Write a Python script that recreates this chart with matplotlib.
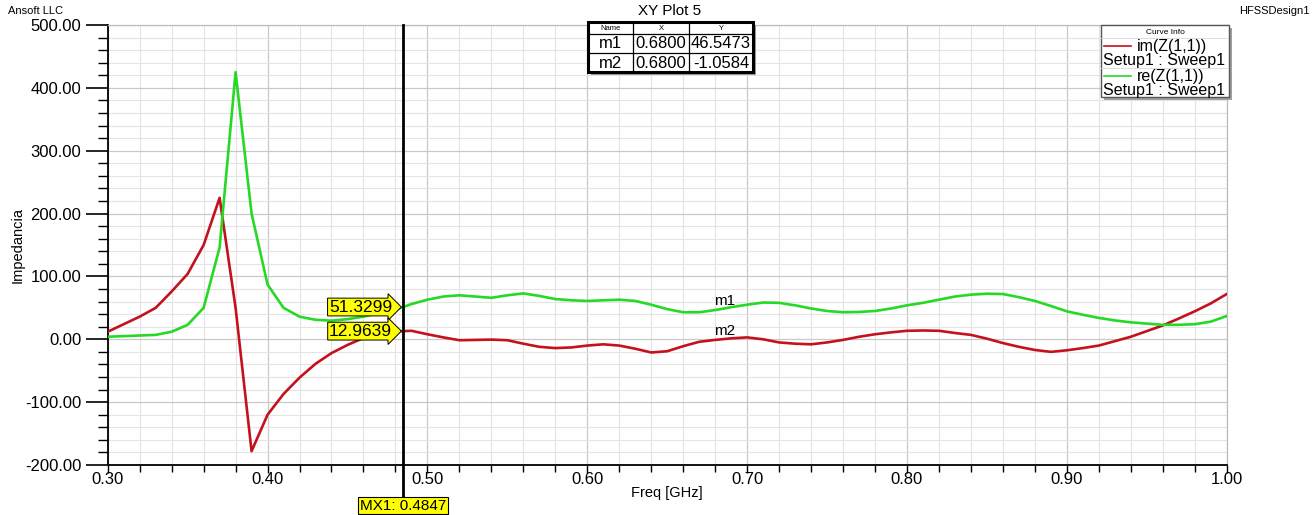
import numpy as np
import matplotlib
matplotlib.use("Agg")
import matplotlib.pyplot as plt
from matplotlib.ticker import MultipleLocator, FormatStrFormatter
from matplotlib.patches import Rectangle

plt.rcParams['font.family'] = ['Liberation Sans', 'DejaVu Sans']

# ---------------- data ----------------
freq = [0.30, 0.31, 0.32, 0.33, 0.34, 0.35, 0.36, 0.37, 0.38, 0.39,
        0.40, 0.41, 0.42, 0.43, 0.44, 0.45, 0.46, 0.47, 0.48, 0.49,
        0.50, 0.51, 0.52, 0.53, 0.54, 0.55, 0.56, 0.57, 0.58, 0.59,
        0.60, 0.61, 0.62, 0.63, 0.64, 0.65, 0.66, 0.67, 0.68, 0.69,
        0.70, 0.71, 0.72, 0.73, 0.74, 0.75, 0.76, 0.77, 0.78, 0.79,
        0.80, 0.81, 0.82, 0.83, 0.84, 0.85, 0.86, 0.87, 0.88, 0.89,
        0.90, 0.91, 0.92, 0.93, 0.94, 0.95, 0.96, 0.97, 0.98, 0.99, 1.00]

im_z = [12, 24, 36, 50, 76, 104, 150, 225, 50, -178,
        -120, -87, -61, -39, -22, -9, 2, 9, 12.5, 13.5,
        8, 3, -1.5, -1, -0.5, -1.5, -7, -12, -14, -13,
        -10, -8, -10, -15, -21, -19, -11, -4, -1, 1.5,
        3, 0, -5, -7, -8, -5, -1, 4, 8, 11,
        13.5, 14, 13.5, 10, 7, 1, -6, -12, -17, -20,
        -17.5, -14, -10, -3, 4, 13, 22, 33, 44.5, 57, 72]

re_z = [4, 5, 6, 7, 12, 23, 50, 146, 425, 200,
        87, 50, 36, 31, 29.6, 32, 36, 42, 47, 56,
        63, 68, 70, 68, 66, 70, 73, 69, 64, 62,
        61, 62, 63, 61, 55, 48, 43, 43, 46.5, 51,
        55, 58.5, 58, 54, 49, 45, 43, 43.5, 45, 49,
        54, 58, 63, 68, 71, 72.5, 72, 67, 61, 53,
        44.5, 39, 34, 30, 27, 25, 23, 23, 24, 28, 37]

curve_names = ["im(Z(1,1))", "re(Z(1,1))"]
sweep_name = "Setup1 : Sweep1"

marker_x = 0.4847
marker_vals = [51.3299, 12.9639]

table_names = ["m1", "m2"]
table_x = [0.6800, 0.6800]
table_y = [46.5473, -1.0584]

RED = '#c4121c'
GREEN = '#25d925'

# ---------------- figure ----------------
W, H = 1316, 515
fig = plt.figure(figsize=(W / 100, H / 100), dpi=100)
fig.patch.set_facecolor('white')

def px(x0, y0, x1, y1):
    return [x0 / W, 1 - y1 / H, (x1 - x0) / W, (y1 - y0) / H]

ax = fig.add_axes(px(107.7, 25, 1226.7, 465))

ax.plot(freq, im_z, color=RED, lw=1.9, zorder=3)
ax.plot(freq, re_z, color=GREEN, lw=1.9, zorder=3)

ax.set_xlim(0.30, 1.00)
ax.set_ylim(-200, 500)
ax.xaxis.set_major_locator(MultipleLocator(0.1))
ax.xaxis.set_minor_locator(MultipleLocator(0.02))
ax.yaxis.set_major_locator(MultipleLocator(100))
ax.yaxis.set_minor_locator(MultipleLocator(20))
ax.xaxis.set_major_formatter(FormatStrFormatter('%.2f'))
ax.yaxis.set_major_formatter(FormatStrFormatter('%.2f'))

ax.grid(which='major', color='#c9c9c9', lw=0.9, zorder=0)
ax.grid(which='minor', color='#e4e4e4', lw=0.8, zorder=0)
ax.set_axisbelow(True)

for s in ['top', 'right']:
    ax.spines[s].set_color('#bdbdbd')
    ax.spines[s].set_linewidth(0.9)
for s in ['left', 'bottom']:
    ax.spines[s].set_color('black')
    ax.spines[s].set_linewidth(1.3)

ax.tick_params(axis='y', which='major', length=16, width=1.2, direction='out',
               labelsize=12, pad=3, colors='black')
ax.tick_params(axis='y', which='minor', length=7, width=1.0, direction='out')
ax.tick_params(axis='x', which='major', length=6, width=1.0, direction='out',
               labelsize=12, pad=-1)
ax.tick_params(axis='x', which='minor', length=5, width=1.0, direction='out')

ax.set_xlabel('Freq [GHz]', fontsize=10.5, labelpad=-1)
ax.set_ylabel('Impedancia', fontsize=10.5, labelpad=0)

# marker line
trans = ax.get_xaxis_transform()
ax.plot([marker_x, marker_x], [1.0, -0.075], transform=trans, color='black',
        lw=2.0, clip_on=False, zorder=5)
ax.text(marker_x, -0.093, 'MX1: %.4f' % marker_x, transform=trans, ha='center',
        va='center', fontsize=11, zorder=6,
        bbox=dict(boxstyle='square,pad=0.1', fc='#ffff00', ec='black', lw=0.8))

for v in marker_vals:
    ax.text(marker_x - 0.0068, v, '%.4f' % v, ha='right', va='center',
            fontsize=12.5, zorder=6,
            bbox=dict(boxstyle='rarrow,pad=0.08', fc='#ffff00', ec='black', lw=0.7))

# m1 / m2 tags
ax.text(table_x[0] - 0.001, table_y[0] + 4, table_names[0], fontsize=11,
        ha='left', va='bottom', zorder=6)
ax.text(table_x[1] - 0.001, table_y[1] + 3, table_names[1], fontsize=11,
        ha='left', va='bottom', zorder=6)

# ---------------- header texts ----------------
fig.text(8 / W, 1 - 11 / H, 'Ansoft LLC', fontsize=8, ha='left', va='center')
fig.text(1310 / W, 1 - 11 / H, 'HFSSDesign1', fontsize=8, ha='right', va='center')
fig.text(670 / W, 1 - 11 / H, 'XY Plot 5', fontsize=11, ha='center', va='center')

# ---------------- marker table ----------------
tax = fig.add_axes(px(588, 22, 753, 72))
tax.set_xlim(0, 165)
tax.set_ylim(50, 0)
tax.axis('off')
tax.add_patch(Rectangle((3, 3), 165, 50, fc='#9a9a9a', ec='none', clip_on=False, zorder=0))
tax.add_patch(Rectangle((0, 0), 165, 50, fc='white', ec='black', lw=2.2, clip_on=False, zorder=1))
col_edges = [0, 45, 101, 165]
row_edges = [0, 12, 31, 50]
for xe in col_edges[1:-1]:
    tax.plot([xe, xe], [0, 50], color='black', lw=0.9, zorder=2)
for ye in row_edges[1:-1]:
    tax.plot([0, 165], [ye, ye], color='black', lw=0.9, zorder=2)
headers = ['Name', 'X', 'Y']
for i, h in enumerate(headers):
    tax.text((col_edges[i] + col_edges[i + 1]) / 2, 6.3, h, fontsize=5.5,
             ha='center', va='center', zorder=3)
for r in range(len(table_names)):
    yc = (row_edges[r + 1] + row_edges[r + 2]) / 2 + 0.5
    cells = [table_names[r], '%.4f' % table_x[r], '%.4f' % table_y[r]]
    for i, c in enumerate(cells):
        tax.text((col_edges[i] + col_edges[i + 1]) / 2, yc, c, fontsize=12,
                 ha='center', va='center', zorder=3)

# ---------------- curve info legend ----------------
lax = fig.add_axes(px(1101, 25, 1229, 97))
lax.set_xlim(0, 128)
lax.set_ylim(72, 0)
lax.axis('off')
lax.add_patch(Rectangle((3, 3), 128, 72, fc='#a0a0a0', ec='none', clip_on=False, zorder=0))
lax.add_patch(Rectangle((0, 0), 128, 72, fc='white', ec='#555555', lw=1.0, clip_on=False, zorder=1))
lax.text(64, 7, 'Curve Info', fontsize=6, ha='center', va='center', zorder=3)
lax.plot([0, 128], [13, 13], color='#d8d8d8', lw=0.6, zorder=2)
lax.plot([0, 128], [43, 43], color='#d8d8d8', lw=0.6, zorder=2)
for k, (nm, col) in enumerate(zip(curve_names, [RED, GREEN])):
    y0 = 21 + k * 30
    lax.plot([3, 30], [y0, y0], color=col, lw=1.2, zorder=3)
    lax.text(36, y0, nm, fontsize=11.5, ha='left', va='center', zorder=3)
    lax.text(2, y0 + 14, sweep_name, fontsize=11.5, ha='left', va='center', zorder=3)

fig.savefig('out.png', dpi=100, facecolor='white')
